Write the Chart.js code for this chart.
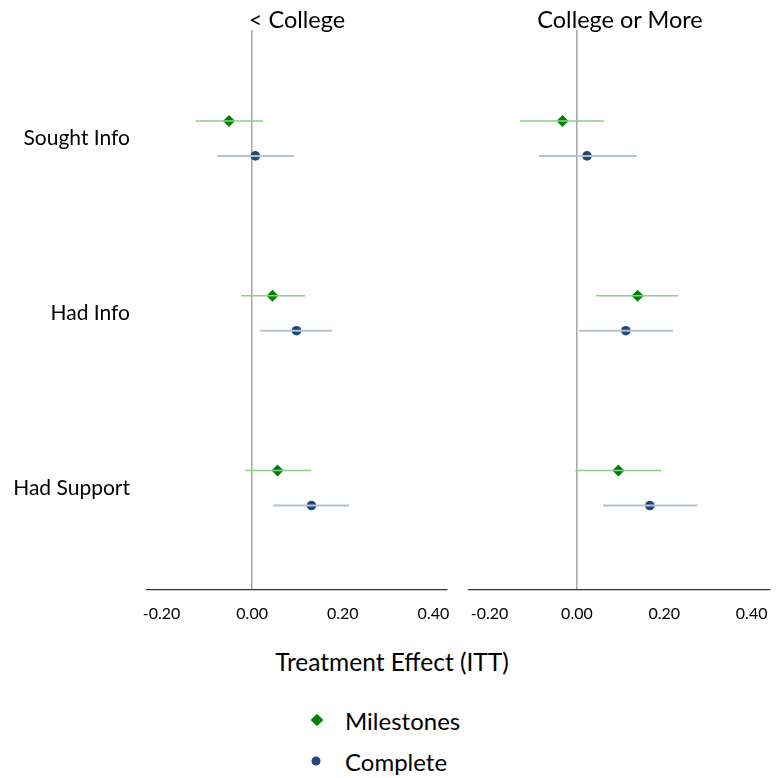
<!DOCTYPE html>
<html>
<head>
<meta charset="utf-8">
<script src="https://cdn.jsdelivr.net/npm/chart.js@4.4.0/dist/chart.umd.min.js"></script>
<style>
  body { margin: 0; background: #fff; font-family: Lato, sans-serif; }
  #wrap { position: relative; width: 776px; height: 778px; overflow: hidden; }
  canvas { position: absolute; top: 0; }
  .txt { position: absolute; color: #000; white-space: nowrap; transform: translate(-50%, -50%); }
  .key { position: absolute; white-space: nowrap; font-size: 24px; transform: translateY(-50%); }
  .mark { position: absolute; transform: translate(-50%, -50%); }
</style>
</head>
<body>
<div id="wrap">
  <canvas id="left" width="460" height="640" style="left:0;width:460px;height:640px"></canvas>
  <canvas id="right" width="316" height="640" style="left:460px;width:316px;height:640px"></canvas>
  <div class="txt" style="left:297px;top:19px;font-size:23.5px">&lt; College</div>
  <div class="txt" style="left:620px;top:19px;font-size:23.5px">College or More</div>
  <div class="txt" style="left:392px;top:661px;font-size:24.5px">Treatment Effect (ITT)</div>
  <div class="mark" style="left:317px;top:720px;width:9px;height:9px;background:#008000;transform:translate(-50%,-50%) rotate(45deg)"></div>
  <div class="key" style="left:345px;top:720px">Milestones</div>
  <div class="mark" style="left:316px;top:761px;width:9px;height:9px;border-radius:50%;background:#1f4a78"></div>
  <div class="key" style="left:345px;top:761px">Complete</div>
</div>
<script>
const categories = ['Sought Info', 'Had Info', 'Had Support'];
const tickValues = [-0.2, 0, 0.2, 0.4];

// < College
const lessMilestones = [-0.051, 0.045, 0.056];
const lessMilestonesLo = [-0.125, -0.024, -0.015];
const lessMilestonesHi = [0.024, 0.117, 0.130];
const lessComplete = [0.007, 0.098, 0.131];
const lessCompleteLo = [-0.077, 0.018, 0.047];
const lessCompleteHi = [0.092, 0.177, 0.214];

// College or More
const moreMilestones = [-0.033, 0.139, 0.095];
const moreMilestonesLo = [-0.130, 0.044, -0.004];
const moreMilestonesHi = [0.062, 0.232, 0.193];
const moreComplete = [0.023, 0.112, 0.167];
const moreCompleteLo = [-0.087, 0.005, 0.060];
const moreCompleteHi = [0.137, 0.220, 0.276];

const GREEN = '#008000';
const GREEN_CI = 'rgb(140,205,140)';
const NAVY = '#1f4a78';
const NAVY_CI = 'rgb(180,194,210)';

Chart.defaults.font.family = 'Lato, sans-serif';
Chart.defaults.color = '#000';

// category rows: 1,2,3 with the two series nudged up/down
const rowPos = categories.map((c, i) => i + 1);

function pointsOf(vals, offset) {
  return vals.map((v, i) => ({ x: v, y: rowPos[i] + offset }));
}

function ciOf(lo, hi, offset) {
  const out = [];
  lo.forEach((l, i) => {
    out.push({ x: l, y: rowPos[i] + offset });
    out.push({ x: hi[i], y: rowPos[i] + offset });
    out.push({ x: null, y: null });
  });
  return out;
}

function makePanel(id, s, xmin, xmax, showY, pad) {
  new Chart(document.getElementById(id), {
    type: 'scatter',
    data: {
      datasets: [
        { data: ciOf(s.mLo, s.mHi, -0.1), showLine: true, spanGaps: false, borderColor: GREEN_CI, borderWidth: 1.5, pointRadius: 0 },
        { data: ciOf(s.cLo, s.cHi, 0.1), showLine: true, spanGaps: false, borderColor: NAVY_CI, borderWidth: 2, pointRadius: 0 },
        { data: pointsOf(s.m, -0.1), pointStyle: 'rectRot', pointRadius: 6, backgroundColor: GREEN, borderColor: GREEN, borderWidth: 0 },
        { data: pointsOf(s.c, 0.1), pointStyle: 'circle', pointRadius: 4.8, backgroundColor: NAVY, borderColor: NAVY, borderWidth: 0 }
      ]
    },
    options: {
      responsive: false,
      animation: false,
      layout: { padding: pad },
      plugins: { legend: { display: false }, tooltip: { enabled: false } },
      scales: {
        x: {
          type: 'linear',
          min: xmin,
          max: xmax,
          afterBuildTicks: axis => { axis.ticks = tickValues.map(v => ({ value: v })); },
          afterFit: axis => {
            axis.height = 50;
            axis.paddingLeft = 0;
            axis.paddingRight = 0;
          },
          ticks: { font: { size: 16 }, padding: 14, callback: v => v.toFixed(2) },
          grid: {
            drawTicks: false,
            color: ctx => (ctx.tick && Math.abs(ctx.tick.value) < 1e-9) ? 'rgb(165,165,165)' : 'rgba(0,0,0,0)',
            lineWidth: 1.5
          },
          border: { display: true, color: '#333', width: 1.3 }
        },
        y: {
          type: 'linear',
          display: showY,
          reverse: true,
          min: 0.38,
          max: 3.583,
          afterBuildTicks: axis => { axis.ticks = rowPos.map(v => ({ value: v })); },
          afterFit: axis => { axis.width = showY ? 147 : 0; },
          ticks: { font: { size: 21 }, padding: 17, callback: v => categories[v - 1] },
          grid: { display: false, drawTicks: false },
          border: { display: false }
        }
      }
    }
  });
}

makePanel('left', {
  m: lessMilestones, mLo: lessMilestonesLo, mHi: lessMilestonesHi,
  c: lessComplete, cLo: lessCompleteLo, cHi: lessCompleteHi
}, -0.232, 0.430, true, { top: 30, right: 13, left: 0, bottom: 0 });

makePanel('right', {
  m: moreMilestones, mLo: moreMilestonesLo, mHi: moreMilestonesHi,
  c: moreComplete, cLo: moreCompleteLo, cHi: moreCompleteHi
}, -0.247, 0.442, false, { top: 30, right: 4, left: 9, bottom: 0 });
</script>
</body>
</html>
